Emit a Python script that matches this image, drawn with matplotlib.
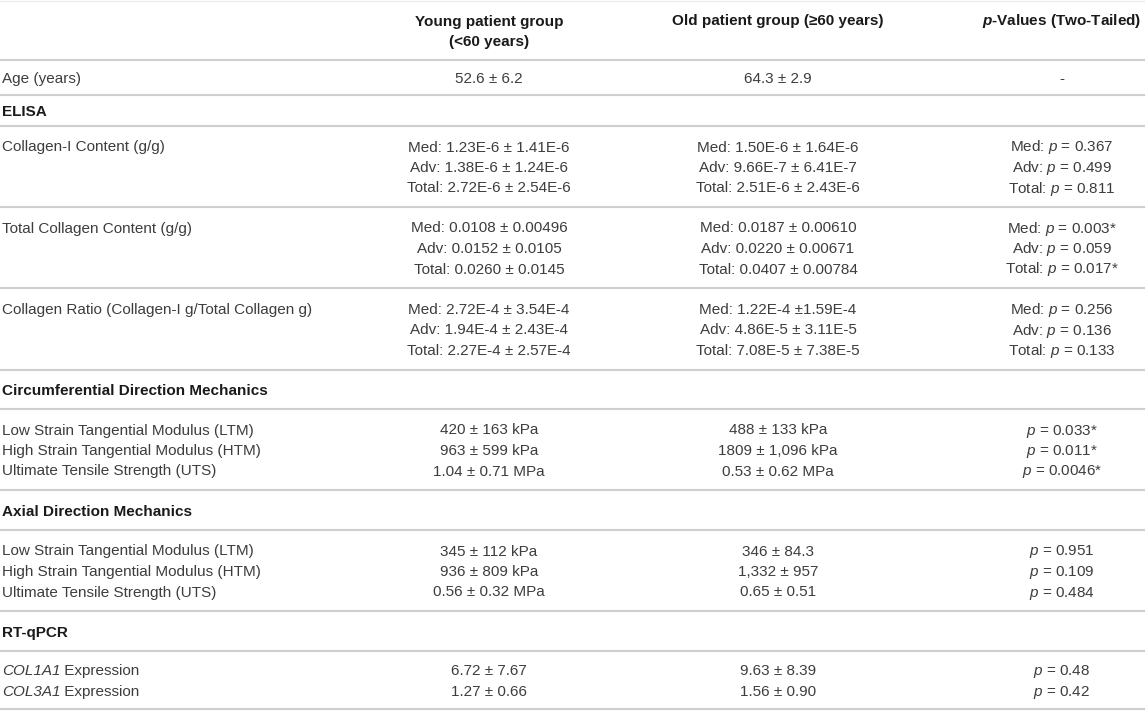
import matplotlib
matplotlib.use("Agg")
import matplotlib.pyplot as plt

# ---- table content ----
col_headers = ["Young patient group\n(<60 years)",
               "Old patient group (≥60 years)",
               r"$\mathbfit{p}$-Values (Two-Tailed)"]

# text between underscores is set in italics
row_labels = ["Age (years)",
              "ELISA",
              "Collagen-I Content (g/g)",
              "Total Collagen Content (g/g)",
              "Collagen Ratio (Collagen-I g/Total Collagen g)",
              "Circumferential Direction Mechanics",
              "Low Strain Tangential Modulus (LTM)\nHigh Strain Tangential Modulus (HTM)\nUltimate Tensile Strength (UTS)",
              "Axial Direction Mechanics",
              "Low Strain Tangential Modulus (LTM)\nHigh Strain Tangential Modulus (HTM)\nUltimate Tensile Strength (UTS)",
              "RT-qPCR",
              "_COL1A1_ Expression\n_COL3A1_ Expression"]

is_section = [False, True, False, False, False, True, False, True, False, True, False]

young = ["52.6 ± 6.2",
         "",
         ["Med: 1.23E-6 ± 1.41E-6", "Adv: 1.38E-6 ± 1.24E-6", "Total: 2.72E-6 ± 2.54E-6"],
         ["Med: 0.0108 ± 0.00496", "Adv: 0.0152 ± 0.0105", "Total: 0.0260 ± 0.0145"],
         ["Med: 2.72E-4 ± 3.54E-4", "Adv: 1.94E-4 ± 2.43E-4", "Total: 2.27E-4 ± 2.57E-4"],
         "",
         ["420 ± 163 kPa", "963 ± 599 kPa", "1.04 ± 0.71 MPa"],
         "",
         ["345 ± 112 kPa", "936 ± 809 kPa", "0.56 ± 0.32 MPa"],
         "",
         ["6.72 ± 7.67", "1.27 ± 0.66"]]

old = ["64.3 ± 2.9",
       "",
       ["Med: 1.50E-6 ± 1.64E-6", "Adv: 9.66E-7 ± 6.41E-7", "Total: 2.51E-6 ± 2.43E-6"],
       ["Med: 0.0187 ± 0.00610", "Adv: 0.0220 ± 0.00671", "Total: 0.0407 ± 0.00784"],
       ["Med: 1.22E-4 ±1.59E-4", "Adv: 4.86E-5 ± 3.11E-5", "Total: 7.08E-5 ± 7.38E-5"],
       "",
       ["488 ± 133 kPa", "1809 ± 1,096 kPa", "0.53 ± 0.62 MPa"],
       "",
       ["346 ± 84.3", "1,332 ± 957", "0.65 ± 0.51"],
       "",
       ["9.63 ± 8.39", "1.56 ± 0.90"]]

p_values = ["-",
            "",
            ["Med: $p$ = 0.367", "Adv: $p$ = 0.499", "Total: $p$ = 0.811"],
            ["Med: $p$ = 0.003*", "Adv: $p$ = 0.059", "Total: $p$ = 0.017*"],
            ["Med: $p$ = 0.256", "Adv: $p$ = 0.136", "Total: $p$ = 0.133"],
            "",
            ["$p$ = 0.033*", "$p$ = 0.011*", "$p$ = 0.0046*"],
            "",
            ["$p$ = 0.951", "$p$ = 0.109", "$p$ = 0.484"],
            "",
            ["$p$ = 0.48", "$p$ = 0.42"]]

# ---- layout (pixels) ----
W, H = 1145, 711
rules = [60, 95, 126, 207, 288, 370, 409, 490, 530, 611, 651, 709]
col_x = [489, 778, 1062]
label_x = 2
pitch = 20.5
fs = 11
body_color = "#3d3d3d"
head_color = "#1a1a1a"
rule_color = "#cfcfcf"

plt.rcParams["font.family"] = ["Liberation Sans", "DejaVu Sans"]
plt.rcParams["mathtext.fontset"] = "custom"
plt.rcParams["mathtext.rm"] = "Liberation Sans"
plt.rcParams["mathtext.it"] = "Liberation Sans:italic"
plt.rcParams["mathtext.bf"] = "Liberation Sans:bold"
plt.rcParams["mathtext.bfit"] = "Liberation Sans:italic:bold"

fig = plt.figure(figsize=(W / 100, H / 100), dpi=100)
ax = fig.add_axes([0, 0, 1, 1])
ax.set_xlim(0, W)
ax.set_ylim(H, 0)
ax.axis("off")
renderer = fig.canvas.get_renderer()

ax.axhline(0.8, color="#ececec", lw=1.0)
for y in rules:
    ax.axhline(y, color=rule_color, lw=1.5)


def as_lines(cell):
    if isinstance(cell, str):
        return cell.split("\n") if cell else []
    return list(cell)


def draw_line(x, y, s, ha, **kw):
    # left-aligned text with _italic_ segments
    if "_" in s and ha == "left":
        parts = s.split("_")
        for k, part in enumerate(parts):
            if not part:
                continue
            t = ax.text(x, y, part, ha="left", va="baseline", fontsize=fs,
                        style="italic" if k % 2 else "normal", **kw)
            bb = t.get_window_extent(renderer)
            x = x + bb.width * W / fig.bbox.width
        return
    ax.text(x, y, s, ha=ha, va="baseline", fontsize=fs, **kw)


def put_lines(x, lines, y_first, ha, **kw):
    for i, s in enumerate(lines):
        draw_line(x, y_first + i * pitch + 5.5, s, ha, **kw)


def first_line_y(top, bottom, n):
    mid = (top + bottom) / 2
    return mid - (n - 1) / 2 * pitch


# header
put_lines(col_x[0], as_lines(col_headers[0]), first_line_y(0, rules[0] + 1, 2),
          "center", color=head_color, fontweight="bold")
for x, h in zip(col_x[1:], col_headers[1:]):
    draw_line(x, 20 + 5.5, h, "center", color=head_color, fontweight="bold")

# body
for i, lab in enumerate(row_labels):
    top, bottom = rules[i], rules[i + 1]
    if is_section[i]:
        put_lines(label_x, [lab], first_line_y(top, bottom, 1), "left",
                  color=head_color, fontweight="bold")
        continue
    cells = [as_lines(young[i]), as_lines(old[i]), as_lines(p_values[i])]
    n = max(len(c) for c in cells)
    y0 = first_line_y(top, bottom, n)
    put_lines(label_x, as_lines(lab), y0, "left", color=body_color)
    for x, c in zip(col_x, cells):
        put_lines(x, c, y0, "center", color=body_color)

fig.savefig("out.png", dpi=100, facecolor="white")
